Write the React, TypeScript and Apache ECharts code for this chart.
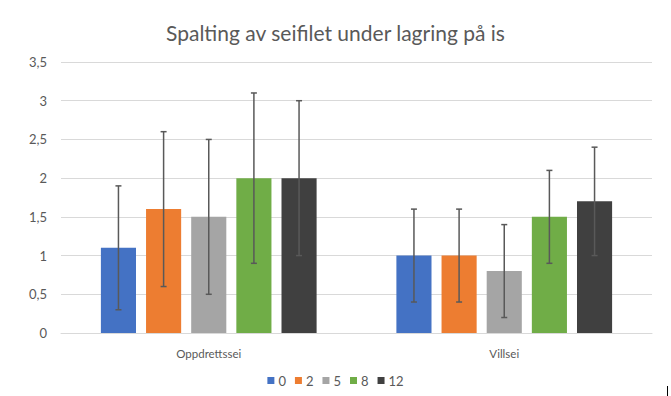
import React, { useEffect, useRef } from "react";
import * as echarts from "echarts";

const categories = ["Oppdrettssei", "Villsei"];
const seriesNames = ["0", "2", "5", "8", "12"];
const colors = ["#4472C4", "#ED7D31", "#A5A5A5", "#70AD47", "#404040"];
const values = [
  [1.1, 1.0],
  [1.6, 1.0],
  [1.5, 0.8],
  [2.0, 1.5],
  [2.0, 1.7],
];
const errLow = [
  [0.3, 0.4],
  [0.6, 0.4],
  [0.5, 0.2],
  [0.9, 0.9],
  [1.0, 1.0],
];
const errHigh = [
  [1.9, 1.6],
  [2.6, 1.6],
  [2.5, 1.4],
  [3.1, 2.1],
  [3.0, 2.4],
];

const CAT_GAP = 0.27;
const BAR_GAP = 0.286;
const FONT = "Lato, 'Open Sans', sans-serif";

export default function App() {
  const ref = useRef<HTMLDivElement>(null);
  useEffect(() => {
    if (!ref.current) return;
    const chart = echarts.init(ref.current, null, { renderer: "svg" });
    const n = seriesNames.length;
    const barSeries = seriesNames.map((name, i) => ({
      name,
      type: "bar",
      data: values[i],
      itemStyle: { color: colors[i] },
      barGap: BAR_GAP * 100 + "%",
      barCategoryGap: CAT_GAP * 100 + "%",
      z: 2,
    }));
    const errSeries = seriesNames.map((name, i) => ({
      name: "err" + name,
      type: "custom",
      z: 5,
      data: categories.map((_, c) => [c, errLow[i][c], errHigh[i][c]]),
      renderItem: (params: any, api: any) => {
        const c = api.value(0);
        const lo = api.coord([c, api.value(1)]);
        const hi = api.coord([c, api.value(2)]);
        const catW = api.size([1, 0])[0];
        const groupW = catW * (1 - CAT_GAP);
        const barW = groupW / (n + (n - 1) * BAR_GAP);
        const x = lo[0] - groupW / 2 + i * barW * (1 + BAR_GAP) + barW / 2;
        const cap = 3;
        const style = { stroke: "#595959", lineWidth: 1.5 };
        return {
          type: "group",
          children: [
            { type: "line", shape: { x1: x, y1: lo[1], x2: x, y2: hi[1] }, style },
            { type: "line", shape: { x1: x - cap, y1: lo[1], x2: x + cap, y2: lo[1] }, style },
            { type: "line", shape: { x1: x - cap, y1: hi[1], x2: x + cap, y2: hi[1] }, style },
          ],
        };
      },
    }));
    chart.setOption({
      animation: false,
      textStyle: { fontFamily: FONT },
      title: {
        text: "Spalting av seifilet under lagring på is",
        left: "center",
        top: 17,
        textStyle: { fontFamily: FONT, fontSize: 21, fontWeight: "normal", color: "#595959" },
      },
      legend: {
        data: seriesNames,
        bottom: 4,
        left: "center",
        icon: "rect",
        itemWidth: 7,
        itemHeight: 7,
        itemGap: 9,
        textStyle: { fontFamily: FONT, fontSize: 13, color: "#595959", padding: [0, 0, 0, -1] },
      },
      grid: { left: 61, right: 19, top: 62, bottom: 63, containLabel: false },
      xAxis: {
        type: "category",
        data: categories,
        axisLine: { lineStyle: { color: "#D9D9D9" } },
        axisTick: { show: false },
        axisLabel: { fontFamily: FONT, fontSize: 11.5, color: "#595959", margin: 14 },
      },
      yAxis: {
        type: "value",
        min: 0,
        max: 3.5,
        interval: 0.5,
        axisLine: { show: false },
        axisTick: { show: false },
        splitLine: { lineStyle: { color: "#D9D9D9" } },
        axisLabel: {
          fontFamily: FONT,
          fontSize: 13,
          color: "#595959",
          margin: 14,
          formatter: (v: number) => String(v).replace(".", ","),
        },
      },
      graphic: [
        {
          type: "line",
          shape: { x1: 667.5, y1: 386, x2: 667.5, y2: 396 },
          style: { stroke: "#000", lineWidth: 1 },
        },
      ],
      series: [...barSeries, ...errSeries],
    });
    return () => chart.dispose();
  }, []);
  return <div ref={ref} style={{ width: 671, height: 396, position: "absolute", left: 0, top: 0 }} />;
}
